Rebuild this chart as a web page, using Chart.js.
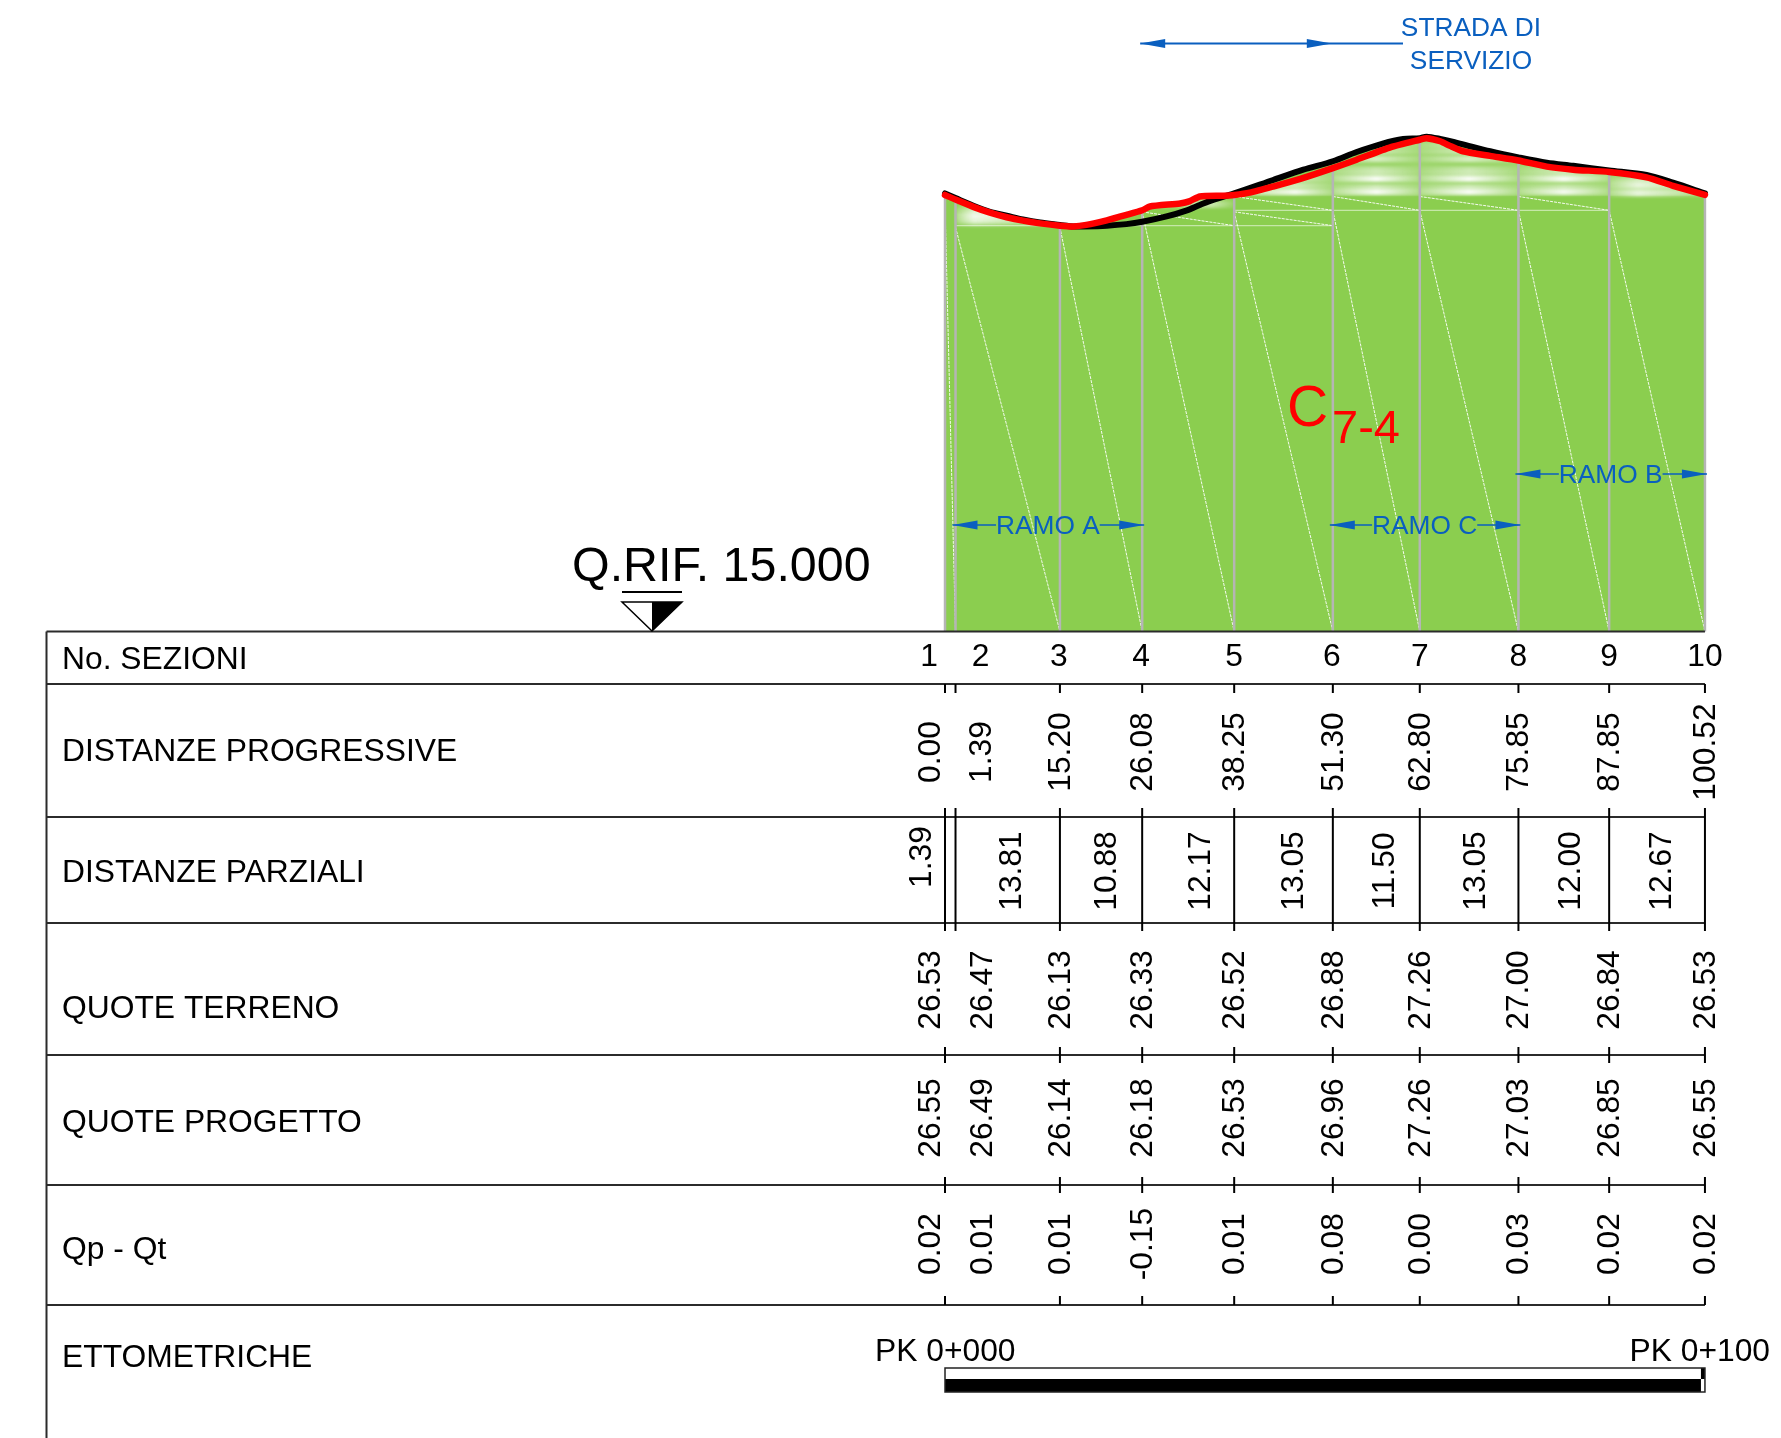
<!DOCTYPE html>
<html>
<head>
<meta charset="utf-8">
<title>Profilo C7-4</title>
<script src="https://cdn.jsdelivr.net/npm/chart.js@4"></script>
<style>
  html, body { margin: 0; padding: 0; background: #fff; }
  canvas { display: block; }
</style>
</head>
<body>
<canvas id="profilo" width="1781" height="1438"></canvas>
<script>
// ========================
// PROFILO — DATI
// ========================
const sezioni = ['1', '2', '3', '4', '5', '6', '7', '8', '9', '10'];
const distProgressive = [0.00, 1.39, 15.20, 26.08, 38.25, 51.30, 62.80, 75.85, 87.85, 100.52];
const distParziali = [1.39, 13.81, 10.88, 12.17, 13.05, 11.50, 13.05, 12.00, 12.67];
const quoteTerreno = [26.53, 26.47, 26.13, 26.33, 26.52, 26.88, 27.26, 27.00, 26.84, 26.53];
const quoteProgetto = [26.55, 26.49, 26.14, 26.18, 26.53, 26.96, 27.26, 27.03, 26.85, 26.55];
const diffQuote = [0.02, 0.01, 0.01, -0.15, 0.01, 0.08, 0.00, 0.03, 0.02, 0.02];
const righe = ['No. SEZIONI', 'DISTANZE PROGRESSIVE', 'DISTANZE PARZIALI', 'QUOTE TERRENO', 'QUOTE PROGETTO', 'Qp - Qt', 'ETTOMETRICHE'];

// red line
const terrenoD = [0, 1.39, 3.75, 5.95, 8.16, 10.3, 12.57, 15.2, 16.97, 18.7, 21.4, 24, 26.08, 27.1, 31.1, 32.4, 33.7, 36.8, 38.25, 40.3, 43.4, 47, 51.3, 54.45, 58.9, 62.8, 63.7, 65.5, 66.8, 68.5, 72.1, 75.85, 79.6, 83.1, 87.85, 92.8, 96.3, 100.52];
const terrenoZ = [26.53, 26.47, 26.375, 26.3, 26.24, 26.195, 26.16, 26.13, 26.12, 26.14, 26.2, 26.27, 26.33, 26.38, 26.42, 26.45, 26.51, 26.52, 26.53, 26.56, 26.64, 26.74, 26.88, 26.99, 27.15, 27.25, 27.27, 27.23, 27.17, 27.1, 27.04, 26.98, 26.9, 26.86, 26.83, 26.76, 26.65, 26.53];
// black line
const progettoD = [0, 1.39, 3.75, 5.95, 8.16, 10.3, 12.57, 15.2, 16.97, 18.3, 21.4, 24, 26.08, 29.3, 32, 33.7, 35, 38.25, 43.4, 47.4, 51.3, 54.45, 57.9, 60.6, 62.8, 63.7, 65.5, 68.1, 72.1, 75.85, 79.6, 83.1, 87.85, 92.8, 96.3, 100.52];
const progettoZ = [26.55, 26.49, 26.39, 26.31, 26.26, 26.21, 26.17, 26.14, 26.12, 26.12, 26.13, 26.15, 26.18, 26.25, 26.33, 26.4, 26.45, 26.55, 26.725, 26.86, 26.97, 27.09, 27.2, 27.26, 27.27, 27.29, 27.26, 27.2, 27.1, 27.02, 26.95, 26.91, 26.85, 26.79, 26.69, 26.55];

// white mesh lines inside the green body: from (d0,z0) to (d1,z1)
const QUOTA_BASE = 20.84;
const diagD0 = [0, 1.39, 15.2, 26.08, 38.25, 51.3, 62.8, 75.85, 87.85, 26.08, 38.25, 38.25, 51.3, 62.8, 75.85];
const diagZ0 = [26.40, 26.11, 26.11, 26.31, 26.31, 26.33, 26.33, 26.33, 26.33, 26.31, 26.31, 26.51, 26.51, 26.51, 26.51];
const diagD1 = [1.39, 15.2, 26.08, 38.25, 51.3, 62.8, 75.85, 87.85, 100.52, 38.25, 51.3, 51.3, 62.8, 75.85, 87.85];
const diagZ1 = [QUOTA_BASE, QUOTA_BASE, QUOTA_BASE, QUOTA_BASE, QUOTA_BASE, QUOTA_BASE, QUOTA_BASE, QUOTA_BASE, QUOTA_BASE, 26.13, 26.13, 26.33, 26.33, 26.33, 26.33];
const livelliD0 = [1.39, 38.25];
const livelliD1 = [51.3, 87.85];
const livelliZ = [26.13, 26.33];

// ========================
// LAYOUT (pixel)
// ========================
const FONT = '"Liberation Sans", Arial, sans-serif';
const TAB_LEFT = 46.5;
const RIGHE_Y = [631.5, 684, 817, 923, 1055, 1185, 1305];
const LABEL_Y = [660, 752, 873, 1009, 1123, 1250, 1358];
const BLU = '#0a5fbf';
const VERDE = '#8bce4f';

function segmenti(d0, z0, d1, z1) {
  const out = [];
  d0.forEach((d, i) => {
    out.push({ x: d, y: z0[i] }, { x: d1[i], y: z1[i] }, { x: d1[i], y: null });
  });
  return out;
}
const punti = (xs, ys) => xs.map((x, i) => ({ x, y: ys[i] }));

function testo(ctx, str, x, y, size, color, align) {
  ctx.font = size + 'px ' + FONT;
  ctx.fillStyle = color || '#000';
  ctx.textAlign = align || 'left';
  ctx.textBaseline = 'middle';
  ctx.fillText(str, x, y);
}

function verticale(ctx, str, x, y) {
  ctx.save();
  ctx.translate(x, y);
  ctx.rotate(-Math.PI / 2);
  testo(ctx, str, 0, 0, 31.8, '#000', 'center');
  ctx.restore();
}

function linea(ctx, x0, y0, x1, y1, color, w) {
  ctx.strokeStyle = color;
  ctx.lineWidth = w;
  ctx.beginPath();
  ctx.moveTo(x0, y0);
  ctx.lineTo(x1, y1);
  ctx.stroke();
}

function punta(ctx, tip, y, dir) {
  ctx.fillStyle = BLU;
  ctx.beginPath();
  ctx.moveTo(tip, y);
  ctx.lineTo(tip + dir * 25, y - 4.5);
  ctx.lineTo(tip + dir * 25, y + 4.5);
  ctx.closePath();
  ctx.fill();
}

// RAMO x double arrows, with the name sitting on the line
function ramo(ctx, nome, x0, x1, y) {
  ctx.font = '26.3px ' + FONT;
  const w = ctx.measureText(nome).width;
  const c = (x0 + x1) / 2 - 1;
  linea(ctx, x0 - 3, y, c - w / 2, y, BLU, 1.5);
  linea(ctx, c + w / 2, y, x1 + 2, y, BLU, 1.5);
  punta(ctx, x0 - 3, y, 1);
  punta(ctx, x1 + 2, y, -1);
  testo(ctx, nome, c, y + 2, 26.3, BLU, 'center');
}

// whitish streaks of the mesh under the profile
function strisce(chart) {
  const { ctx } = chart;
  const sx = chart.scales.x, sy = chart.scales.y;
  const pannelli = [
    { d0: 1.39, d1: 15.2, c: 0.18, z: [26.16, 26.2, 26.25, 26.3, 26.36], a: [0.35, 0.7, 0.85, 0.75, 0.5] },
    { d0: 26.08, d1: 38.25, c: 0.75, z: [26.4, 26.45], a: [0.5, 0.3] },
    { d0: 38.25, d1: 51.3, c: 0.62, z: [26.57, 26.65, 26.74, 26.82], a: [0.9, 0.55, 0.55, 0.4] },
    { d0: 51.3, d1: 62.8, c: 0.5, z: [26.57, 26.63, 26.74, 26.8, 26.86, 27.0, 27.1, 27.18], a: [0.95, 0.55, 0.95, 0.45, 0.45, 0.6, 0.5, 0.45] },
    { d0: 62.8, d1: 75.85, c: 0.5, z: [26.57, 26.63, 26.74, 26.8, 26.86, 27.0, 27.1, 27.18], a: [0.95, 0.55, 0.95, 0.45, 0.45, 0.6, 0.55, 0.55] },
    { d0: 75.85, d1: 87.85, c: 0.5, z: [26.57, 26.63, 26.74, 26.8, 26.86, 27.0], a: [0.9, 0.5, 0.95, 0.45, 0.45, 0.55] },
    { d0: 87.85, d1: 100.52, c: 0.3, z: [26.55, 26.6, 26.66, 26.72], a: [0.75, 0.45, 0.75, 0.55] }
  ];
  ctx.save();
  // clip to the red line
  ctx.beginPath();
  terrenoD.forEach((d, i) => {
    const x = sx.getPixelForValue(d), y = sy.getPixelForValue(terrenoZ[i]);
    if (i === 0) ctx.moveTo(x, y); else ctx.lineTo(x, y);
  });
  ctx.lineTo(sx.getPixelForValue(100.52), sy.getPixelForValue(26.0));
  ctx.lineTo(sx.getPixelForValue(0), sy.getPixelForValue(26.0));
  ctx.closePath();
  ctx.clip();
  // pale veil over the upper part
  ctx.fillStyle = 'rgba(255,255,255,0.16)';
  const y0 = sy.getPixelForValue(27.4), y1 = sy.getPixelForValue(26.52);
  ctx.fillRect(sx.getPixelForValue(38.25), y0, sx.getPixelForValue(100.52) - sx.getPixelForValue(38.25), y1 - y0);
  ctx.filter = 'blur(1.5px)';
  pannelli.forEach(p => {
    const x0 = sx.getPixelForValue(p.d0), x1 = sx.getPixelForValue(p.d1);
    p.z.forEach((z, i) => {
      const g = ctx.createLinearGradient(x0, 0, x1, 0);
      g.addColorStop(0, 'rgba(255,255,255,' + (p.a[i] * 0.25) + ')');
      g.addColorStop(p.c, 'rgba(255,255,255,' + p.a[i] + ')');
      g.addColorStop(1, 'rgba(255,255,255,' + (p.a[i] * 0.2) + ')');
      ctx.fillStyle = g;
      ctx.fillRect(x0, sy.getPixelForValue(z) - 3, x1 - x0, 6);
    });
  });
  ctx.restore();
}

// table, texts and symbols on top of the profile
function disegnaTavola(chart) {
  const { ctx } = chart;
  const X = d => chart.scales.x.getPixelForValue(d);
  const xFine = X(100.52);

  ctx.save();
  // rows
  RIGHE_Y.forEach(y => linea(ctx, TAB_LEFT, y, xFine, y, '#2b2b2b', 2));
  linea(ctx, TAB_LEFT, RIGHE_Y[0], TAB_LEFT, 1438, '#2b2b2b', 2);
  // ticks on the sections, section 2 stops at the third row
  distProgressive.forEach((d, i) => {
    const x = X(d);
    linea(ctx, x, 684, x, 693, '#000', 2);
    linea(ctx, x, 808, x, 931, '#000', 2);
    if (i === 1) return;
    linea(ctx, x, 1047, x, 1063, '#000', 2);
    linea(ctx, x, 1177, x, 1193, '#000', 2);
    linea(ctx, x, 1296, x, 1305, '#000', 2);
  });

  righe.forEach((r, i) => testo(ctx, r, 62, LABEL_Y[i], 31.8));

  // section numbers and columns of values, 1 and 2 are pushed apart
  const scarto = [-14, 28, 1, 1, 1, 1, 1, 1, 1, 1];
  const scartoNum = [-16, 25, -1, -1, 0, -1, 0, 0, 0, 0];
  sezioni.forEach((s, i) => {
    const x = X(distProgressive[i]);
    testo(ctx, s, x + scartoNum[i], 657, 31.8, '#000', 'center');
    verticale(ctx, distProgressive[i].toFixed(2), x + [-14, 27, 1, 1, 1, 1, 1, 1, 1, 1][i], 752);
    verticale(ctx, quoteTerreno[i].toFixed(2), x + scarto[i], 990);
    verticale(ctx, quoteProgetto[i].toFixed(2), x + scarto[i], 1118);
    verticale(ctx, diffQuote[i].toFixed(2), x + scarto[i], 1244);
  });
  const scartoParz = [0, 5, 6, 13, 11, 8.5, 7.5, 7, 5];
  distParziali.forEach((v, i) => {
    if (i === 0) {
      verticale(ctx, v.toFixed(2), X(0) - 23, 857);
    } else {
      verticale(ctx, v.toFixed(2), (X(distProgressive[i]) + X(distProgressive[i + 1])) / 2 + scartoParz[i], 871);
    }
  });

  // Q.RIF. symbol
  testo(ctx, 'Q.RIF. 15.000', 572, 568, 48.4);
  linea(ctx, 622, 592, 682, 592, '#000', 2);
  ctx.lineWidth = 1.5;
  ctx.strokeStyle = '#000';
  ctx.beginPath();
  ctx.moveTo(622, 602); ctx.lineTo(682, 602); ctx.lineTo(652, 631); ctx.closePath();
  ctx.stroke();
  ctx.fillStyle = '#000';
  ctx.beginPath();
  ctx.moveTo(652, 602); ctx.lineTo(682, 602); ctx.lineTo(652, 631); ctx.closePath();
  ctx.fill();

  // road label
  linea(ctx, X(26.08) - 2, 43.5, 1403, 43.5, BLU, 2);
  punta(ctx, X(26.08) - 2, 43.5, 1);
  punta(ctx, X(51.3) - 1, 43.5, -1);
  testo(ctx, 'STRADA DI', 1471, 29, 26.3, BLU, 'center');
  testo(ctx, 'SERVIZIO', 1471, 62, 26.3, BLU, 'center');

  ramo(ctx, 'RAMO A', X(1.39), X(26.08), 525);
  ramo(ctx, 'RAMO C', X(51.3), X(75.85), 525);
  ramo(ctx, 'RAMO B', X(75.85), X(100.52), 474);

  testo(ctx, 'C', 1287, 410, 57, '#f00');
  testo(ctx, '7-4', 1332, 430, 47, '#f00');

  // chainage bar
  testo(ctx, 'PK 0+000', 875, 1352, 31.8);
  testo(ctx, 'PK 0+100', 1770, 1352, 31.8, '#000', 'right');
  ctx.fillStyle = '#000';
  ctx.fillRect(X(0), 1379, xFine - X(0) - 4, 13);
  ctx.fillRect(xFine - 4, 1368, 4, 11);
  ctx.strokeStyle = '#222';
  ctx.lineWidth = 1.5;
  ctx.strokeRect(X(0), 1368, xFine - X(0), 24);
  ctx.restore();
}

const pluginProfilo = {
  id: 'profilo',
  afterDatasetDraw(chart, args) {
    if (args.index === 0) strisce(chart);
  },
  afterDatasetsDraw(chart) {
    disegnaTavola(chart);
  }
};

document.addEventListener('DOMContentLoaded', () => {
  new Chart(document.getElementById('profilo'), {
    type: 'line',
    data: {
      datasets: [
        // fills under the two lines
        { label: 'corpo terreno', data: punti(terrenoD, terrenoZ), borderWidth: 0, tension: 0.2, pointRadius: 0, fill: { value: QUOTA_BASE }, backgroundColor: VERDE, order: 5 },
        { label: 'corpo progetto', data: punti(progettoD, progettoZ), borderWidth: 0, tension: 0.3, pointRadius: 0, fill: { value: QUOTA_BASE }, backgroundColor: VERDE, order: 6 },
        // mesh
        { label: 'livelli', data: segmenti(livelliD0, livelliZ, livelliD1, livelliZ), borderColor: 'rgba(255,255,255,0.5)', borderWidth: 1.2, pointRadius: 0, order: 4 },
        { label: 'diagonali', data: segmenti(diagD0, diagZ0, diagD1, diagZ1), borderColor: 'rgba(255,255,255,0.9)', borderWidth: 1, borderDash: [3, 1], pointRadius: 0, order: 3 },
        { label: 'sezioni', data: segmenti(distProgressive, quoteTerreno, distProgressive, distProgressive.map(() => QUOTA_BASE)), borderColor: '#b5b5b5', borderWidth: 2.5, pointRadius: 0, order: 2 },
        // profiles
        { label: 'Quote progetto', data: punti(progettoD, progettoZ), borderColor: '#000', borderWidth: 6, tension: 0.3, borderCapStyle: 'round', borderJoinStyle: 'round', pointRadius: 0, order: 1 },
        { label: 'Quote terreno', data: punti(terrenoD, terrenoZ), borderColor: '#f00', borderWidth: 6.5, tension: 0.2, borderCapStyle: 'round', borderJoinStyle: 'round', pointRadius: 0, order: 0 }
      ]
    },
    options: {
      responsive: false,
      animation: false,
      layout: { padding: 0 },
      plugins: { legend: { display: false }, tooltip: { enabled: false } },
      scales: {
        x: { type: 'linear', display: false, min: -125, max: 110.58 },
        y: { type: 'linear', display: false, min: 10.324, max: 29.072 }
      }
    },
    plugins: [pluginProfilo]
  });
});
</script>
</body>
</html>
